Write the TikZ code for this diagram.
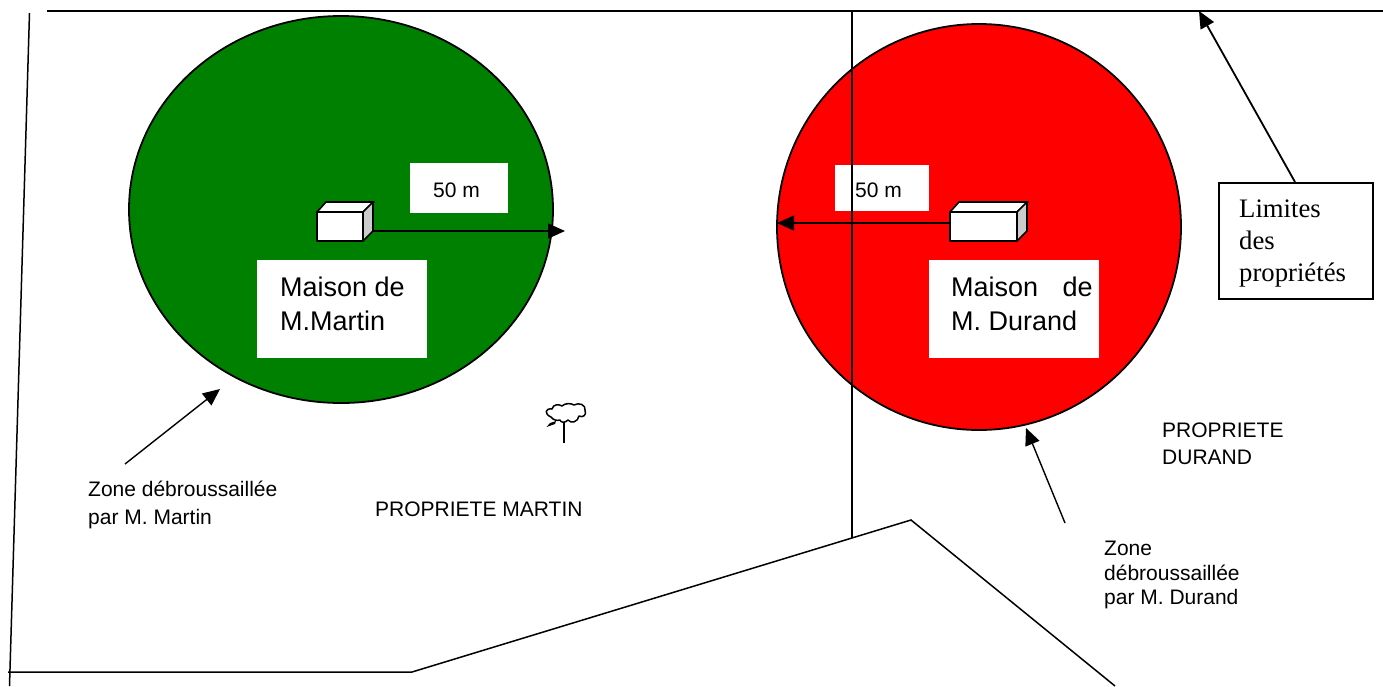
\documentclass[tikz,border=0pt]{standalone}
\usepackage{fontspec}
\setmainfont{Liberation Sans}
\newfontfamily\serifface{Liberation Serif}
\usetikzlibrary{arrows.meta}
\definecolor{zonegreen}{RGB}{0,128,0}
\definecolor{zonered}{RGB}{255,0,0}
\definecolor{sidegray}{RGB}{204,204,204}
\tikzset{
  ln/.style={draw=black,line width=1.5pt},
  circ/.style={draw=black,line width=1.8pt},
  arr/.style={draw=black,line width=1.4pt,-{Triangle[length=17pt,width=15pt]}},
  wbox/.style={fill=white,draw=none,inner sep=0pt,anchor=north west},
  lbl/.style={anchor=west,inner sep=0pt,align=left,font=\fontsize{21}{28}\selectfont},
  big/.style={anchor=north west,inner sep=0pt,align=left,font=\fontsize{27}{34}\selectfont},
  house/.style={draw=black,line width=1.6pt,line join=round}
}
\begin{document}
\begin{tikzpicture}[x=1pt,y=-1pt]
\useasboundingbox (0,0) rectangle (1383,686);
\fill[white] (0,0) rectangle (1383,686);
% zones
\draw[circ,fill=zonegreen] (341,209.5) ellipse [x radius=212,y radius=193.5];
\draw[circ,fill=zonered] (979,227) ellipse [x radius=202,y radius=203];
% white boxes
\node[wbox,minimum width=98pt,minimum height=50pt] (m1) at (410,163) {};
\node[wbox,minimum width=94pt,minimum height=46pt] (m2) at (835,165) {};
\node[wbox,minimum width=170pt,minimum height=98pt] (h1) at (257,260) {};
\node[wbox,minimum width=170pt,minimum height=98pt] (h2) at (929,260) {};
% boundaries
\coordinate (tl) at (47,11); \coordinate (tr) at (1383,11);
\coordinate (ll1) at (29.5,13); \coordinate (ll2) at (9.5,686);
\coordinate (b0) at (8,672); \coordinate (b1) at (412,672);
\coordinate (b2) at (911,520); \coordinate (b3) at (1115,686);
\coordinate (v1) at (852,11); \coordinate (v2) at (852,538);
\draw[ln] (tl) -- (tr);
\draw[ln] (ll1) -- (ll2);
\draw[ln,line join=miter] (b0) -- (b1) -- (b2) -- (b3);
\draw[ln] (v1) -- (v2);
% houses
\foreach \xa/\xb/\nm in {317/363/a,950/1017/b}{
  \draw[house,fill=white] (\xa,212) -- (\xa+9,202) -- (\xb+11,202) -- (\xb,212) -- cycle;
  \draw[house,fill=sidegray] (\xb,212) -- (\xb+10,202) -- (\xb+10,231) -- (\xb,241) -- cycle;
  \draw[house,fill=white] (\xa,212) rectangle (\xb,241);
}
\coordinate (ha) at (373,231); \coordinate (hat) at (565,231);
\coordinate (hb) at (950,223); \coordinate (hbt) at (777,223);
\draw[arr] (ha) -- (hat);
\draw[arr] (hb) -- (hbt);
% text
\node[lbl] (t50a) at (433,190) {50 m};
\node[lbl] (t50b) at (855,190) {50 m};
\node[big] (tm1) at (280,277) {Maison de\\M.Martin};
\node[big] (tm2) at (951,277) {Maison\hspace{17pt} de\\M. Durand};
\node[lbl,anchor=north west] (z1) at (88,481) {Zone débroussaillée\\par M. Martin};
\node[lbl,anchor=north west,font=\fontsize{21}{24.5}\selectfont] (z2) at (1104,541) {Zone\\débroussaillée\\par M. Durand};
\node[lbl] (p1) at (375,509) {PROPRIETE MARTIN};
\node[lbl,anchor=north west,font=\fontsize{21}{27}\selectfont] (p2) at (1162,423) {PROPRIETE\\DURAND};
% limits box
\node[draw=black,line width=1.8pt,fill=white,anchor=north west,minimum width=154pt,minimum height=116pt,inner sep=0pt] (lim) at (1218,182) {};
\node[anchor=north west,inner sep=0pt,align=left,font=\serifface\fontsize{26.7}{31.7}\selectfont] (limt) at (1239,200) {Limites\\des\\propriétés};
% arrows
\coordinate (a1s) at (125,464); \coordinate (a1e) at (220,389);
\coordinate (a2s) at (1065,523); \coordinate (a2e) at (1026,428);
\coordinate (a3s) at (1295,182); \coordinate (a3e) at (1199,11);
\draw[arr] (a1s) -- (a1e);
\draw[arr] (a2s) -- (a2e);
\draw[arr,line width=1.8pt] (a3s) -- (a3e);
% tree
\draw[ln] (564,422) -- (564,443);
\draw[draw=black,line width=1.5pt,fill=white,line join=round] (551,417)
  .. controls (544,414) and (545,408) .. (552,409)
  .. controls (553,404) and (559,404) .. (562,406)
  .. controls (565,403) and (571,403) .. (574,405)
  .. controls (579,402) and (586,405) .. (585,410)
  .. controls (587,415) and (583,418) .. (579,416)
  .. controls (578,422) and (571,424) .. (568,420)
  .. controls (565,423) and (561,423) .. (560,420)
  .. controls (557,421) and (553,420) .. (551,417) -- cycle;
\fill[black] (546.5,427) -- (550,423) -- (556,421) -- (555,424) -- cycle;
\end{tikzpicture}
\end{document}
